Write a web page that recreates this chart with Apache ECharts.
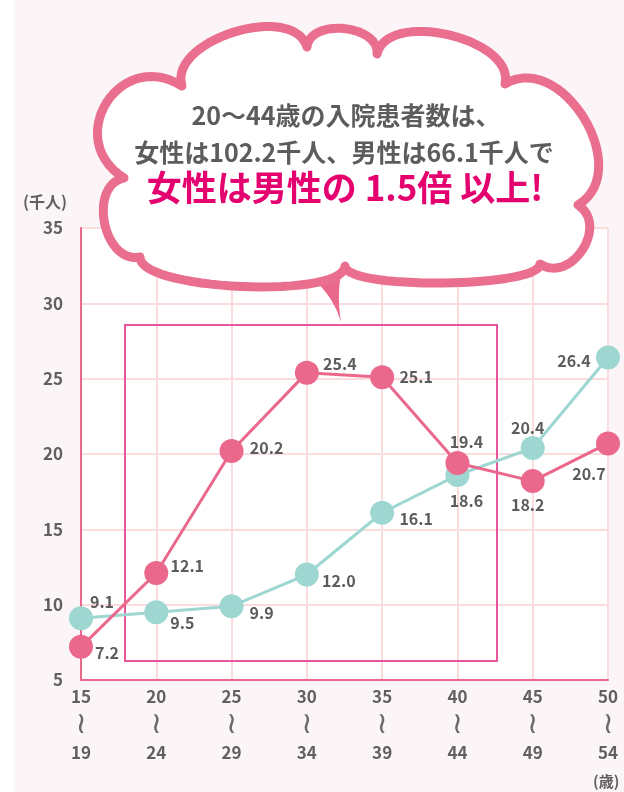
<!DOCTYPE html>
<html>
<head>
<meta charset="utf-8">
<script src="https://cdn.jsdelivr.net/npm/echarts@6/dist/echarts.min.js"></script>
<style>
html,body{margin:0;padding:0;background:#fff;}
#c{width:624px;height:792px;}
</style>
</head>
<body>
<div id="c"></div>
<script>
// ---- data ----
const ageStart = ['15','20','25','30','35','40','45','50'];
const ageEnd   = ['19','24','29','34','39','44','49','54'];
const female = [7.2, 12.1, 20.2, 25.4, 25.1, 19.4, 18.2, 20.7];
const male   = [9.1, 9.5, 9.9, 12.0, 16.1, 18.6, 20.4, 26.4];
const yMin = 5, yMax = 35, yStep = 5;
const yUnit = '(千人)';
const xUnit = '(歳)';
const headline1 = '20〜44歳の入院患者数は、';
const headline2 = '女性は102.2千人、男性は66.1千人で';
const headline3 = '女性は男性の 1.5倍 以上!';

// ---- styles / layout ----
const PINK = '#e9688c';
const TEAL = '#9ed7d2';
const GRAY = '#5c5c5c';
const femaleOffsets = [[26,6],[31,-7],[35,-3],[33,-9],[34,0],[9,-21],[-5,24],[-19,30]];
const maleOffsets   = [[21,-16],[26,11],[30,7],[32,6],[34,6],[9,26],[-5,-20],[-34,3]];

const FONT = '"Noto Sans CJK JP", "Noto Sans", sans-serif';
const labelStyle = {fontSize:16, fontWeight:'bold', color:GRAY, fontFamily:FONT,
  formatter:(p)=>Number(p.value).toFixed(1)};

function mkData(vals, offs){
  return vals.map((v,i)=>({value:v, label:{offset:offs[i]}}));
}

// cloud outline (decoration)
const cusps = [[124,178],[182,86],[307,47],[377,54],[505,84],[578,205],[540,264],[345,266],[140,257]];
const heights = [55,36,22,35,50,28,18,25,28];
function cubicPts(p0,c1,c2,p1,n){
  const out=[];
  for(let j=0;j<n;j++){
    const t=j/n, u=1-t;
    out.push([
      u*u*u*p0[0]+3*u*u*t*c1[0]+3*u*t*t*c2[0]+t*t*t*p1[0],
      u*u*u*p0[1]+3*u*u*t*c1[1]+3*u*t*t*c2[1]+t*t*t*p1[1]
    ]);
  }
  return out;
}
function cloudPoints(){
  let pts=[];
  for(let i=0;i<cusps.length;i++){
    const p0 = cusps[i], p1 = cusps[(i+1)%cusps.length];
    const dx = p1[0]-p0[0], dy = p1[1]-p0[1];
    const len = Math.sqrt(dx*dx+dy*dy);
    const nx = dy/len, ny = -dx/len;
    const k = heights[i]*4/3;
    pts = pts.concat(cubicPts(p0,[p0[0]+nx*k,p0[1]+ny*k],[p1[0]+nx*k,p1[1]+ny*k],p1,30));
  }
  return pts;
}
function quadPts(p0,c,p1,n){
  const out=[];
  for(let j=0;j<=n;j++){
    const t=j/n,u=1-t;
    out.push([u*u*p0[0]+2*u*t*c[0]+t*t*p1[0], u*u*p0[1]+2*u*t*c[1]+t*t*p1[1]]);
  }
  return out;
}
const tailPts = quadPts([298,270],[330,286],[341,322],12).concat(quadPts([341,322],[336,292],[343,264],12));

const chart = echarts.init(document.getElementById('c'), null, {renderer:'canvas'});
chart.setOption({
  animation:false,
  backgroundColor:'#fcf5f7',
  grid:{left:81, right:16, top:228, bottom:112, show:true, backgroundColor:'#ffffff', borderWidth:0},
  xAxis:{
    type:'category', boundaryGap:false,
    data: ageStart.map((a,i)=>a+'\n'+ageEnd[i]),
    axisLine:{lineStyle:{color:PINK, width:2}},
    axisTick:{show:false},
    splitLine:{show:true, lineStyle:{color:'#fadcdd', width:2}},
    axisLabel:{
      margin:3,
      formatter:(v)=>{const p=v.split('\n'); return '{a|'+p[0]+'}\n{t|≀}\n{a|'+p[1]+'}';},
      rich:{
        a:{fontSize:17, fontWeight:'bold', color:'#606060', lineHeight:28, fontFamily:FONT},
        t:{fontSize:30, color:'#6a6a6a', lineHeight:28, fontFamily:'DejaVu Sans'}
      }
    }
  },
  yAxis:{
    type:'value', min:yMin, max:yMax, interval:yStep,
    axisLine:{show:true, lineStyle:{color:PINK, width:2}},
    axisTick:{show:false},
    splitLine:{show:true, lineStyle:{color:'#fadcdd', width:2}},
    axisLabel:{margin:18, fontSize:17, fontWeight:'bold', color:'#606060', fontFamily:FONT}
  },
  graphic:[
    {type:'rect', z:-1, silent:true, shape:{x:0,y:0,width:14,height:792}, style:{fill:'#ffffff'}},
    {type:'rect', z:1, silent:true, shape:{x:125,y:325,width:372,height:336}, style:{fill:null, stroke:'#e8559a', lineWidth:2}},
    {type:'text', z:5, x:23, y:202, style:{text:yUnit, textVerticalAlign:'middle', fill:'#606060', font:'bold 16px '+FONT}},
    {type:'text', z:5, x:593, y:781, style:{text:xUnit, textVerticalAlign:'middle', fill:'#606060', font:'bold 15px '+FONT}},
    {type:'polygon', z:20, silent:true, shape:{points:tailPts}, style:{fill:PINK}},
    {type:'polygon', z:21, silent:true, shape:{points:cloudPoints()}, style:{fill:'#ffffff', stroke:'#ea6f8f', lineWidth:9, lineJoin:'round'}},
    {type:'text', z:22, x:346, y:115, style:{text:headline1, textAlign:'center', textVerticalAlign:'middle', fill:GRAY, font:'bold 25px '+FONT}},
    {type:'text', z:22, x:344, y:152, style:{text:headline2, textAlign:'center', textVerticalAlign:'middle', fill:GRAY, font:'bold 25px '+FONT}},
    {type:'text', z:22, x:345, y:188, style:{text:headline3, textAlign:'center', textVerticalAlign:'middle', fill:'#e4006e', font:'bold 35px '+FONT}}
  ],
  series:[
    {
      type:'line', name:'男性', data:mkData(male, maleOffsets), z:3,
      symbol:'circle', symbolSize:24,
      lineStyle:{color:TEAL, width:3}, itemStyle:{color:TEAL},
      label:{show:true, position:'inside', align:'center', verticalAlign:'middle', ...labelStyle},
      emphasis:{disabled:true}
    },
    {
      type:'line', name:'女性', data:mkData(female, femaleOffsets), z:4,
      symbol:'circle', symbolSize:24,
      lineStyle:{color:PINK, width:3}, itemStyle:{color:PINK},
      label:{show:true, position:'inside', align:'center', verticalAlign:'middle', ...labelStyle},
      emphasis:{disabled:true}
    }
  ]
});
</script>
</body>
</html>
